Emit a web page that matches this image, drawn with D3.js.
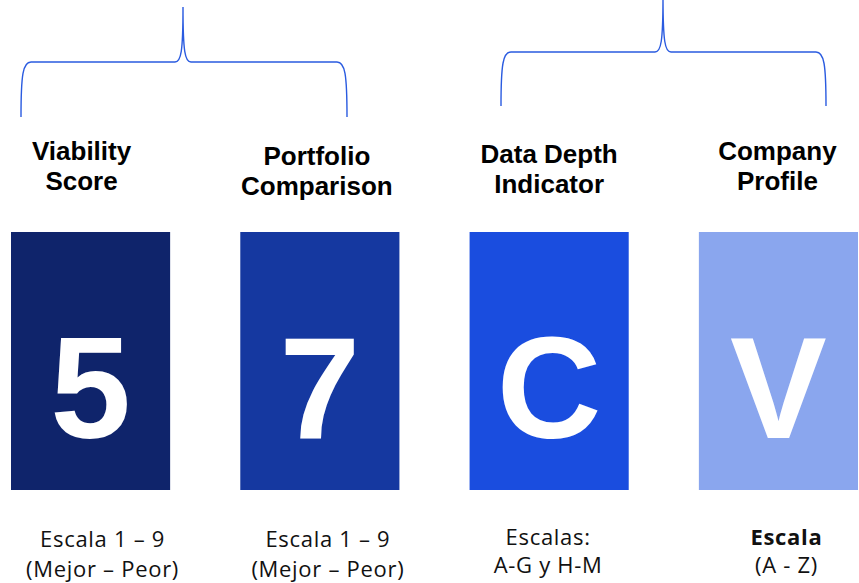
<!DOCTYPE html>
<html>
<head>
  <title>Scores</title>
  <script src="https://d3js.org/d3.v7.min.js"></script>
  <style>
    body { margin: 0; background: #fff; }
  </style>
</head>
<body>
  <div id="chart"></div>
  <script>
  // data
  const categories = ["Viability Score", "Portfolio Comparison", "Data Depth Indicator", "Company Profile"];
  const titleLines = [["Viability", "Score"], ["Portfolio", "Comparison"], ["Data Depth", "Indicator"], ["Company", "Profile"]];
  const values = ["5", "7", "C", "V"];
  const scaleLines = [["Escala 1 – 9", "(Mejor – Peor)"], ["Escala 1 – 9", "(Mejor – Peor)"], ["Escalas:", "A-G y H-M"], ["Escala", "(A - Z)"]];
  const groups = [["Viability Score", "Portfolio Comparison"], ["Data Depth Indicator", "Company Profile"]];

  // style / layout
  const colors = ["#0f246b", "#1538a0", "#1a4ddf", "#8aa6ee"];
  const titleShift = [-9, -3, 0, -1];
  const titleTop = [160, 165, 163, 160];
  const subShift = [12, 8, -1, 8];
  const boldFirst = [false, false, false, true];

  const W = 859, H = 583;
  const svg = d3.select("#chart").append("svg")
    .attr("width", W).attr("height", H);

  const x = d3.scaleBand()
    .domain(categories)
    .range([11, 858])
    .paddingInner(0.306)
    .paddingOuter(0);

  const y = d3.scaleLinear().domain([0, 1]).range([490, 232]);

  const col = svg.selectAll("g.col")
    .data(categories)
    .join("g")
    .attr("class", "col");

  col.append("rect")
    .attr("x", d => x(d))
    .attr("y", y(1))
    .attr("width", x.bandwidth())
    .attr("height", y(0) - y(1))
    .attr("fill", (d, i) => colors[i]);

  col.append("text")
    .attr("x", d => x(d) + x.bandwidth() / 2)
    .attr("y", 438)
    .attr("text-anchor", "middle")
    .attr("font-family", "Liberation Sans, Arial, sans-serif")
    .attr("font-weight", "bold")
    .attr("font-size", 145)
    .attr("fill", "#fff")
    .text((d, i) => values[i]);

  col.each(function(d, i) {
    const g = d3.select(this);
    const cx = x(d) + x.bandwidth() / 2;
    titleLines[i].forEach((t, j) => {
      g.append("text")
        .attr("x", cx + titleShift[i])
        .attr("y", titleTop[i] + j * 30)
        .attr("text-anchor", "middle")
        .attr("font-family", "Liberation Sans, Arial, sans-serif")
        .attr("font-weight", "bold")
        .attr("font-size", 26)
        .attr("fill", "#000")
        .text(t);
    });
    scaleLines[i].forEach((t, j) => {
      g.append("text")
        .attr("x", cx + subShift[i])
        .attr("y", (i < 2 ? 547 : 545) + j * (i < 2 ? 30 : 28))
        .attr("text-anchor", "middle")
        .attr("font-family", "Open Sans, Noto Sans, sans-serif")
        .attr("font-weight", boldFirst[i] && j === 0 ? "bold" : "normal")
        .attr("font-size", 22)
        .attr("letter-spacing", 0.7)
        .attr("fill", "#111")
        .text(t);
    });
  });

  // braces over each group
  const braceGeom = [
    { x0: 21, x1: 347, tip: 183, yTop: 62, yBot: 117, yTip: 7 },
    { x0: 501, x1: 826, tip: 663, yTop: 52, yBot: 106, yTip: -4 }
  ];

  function bracePath(b) {
    const p = d3.path();
    p.moveTo(b.x0, b.yBot);
    p.bezierCurveTo(b.x0, b.yTop + 12, b.x0 + 2, b.yTop, b.x0 + 10, b.yTop);
    p.lineTo(b.tip - 8, b.yTop);
    p.bezierCurveTo(b.tip - 2, b.yTop, b.tip, b.yTop - 10, b.tip, b.yTip);
    p.bezierCurveTo(b.tip, b.yTop - 10, b.tip + 2, b.yTop, b.tip + 8, b.yTop);
    p.lineTo(b.x1 - 10, b.yTop);
    p.bezierCurveTo(b.x1 - 2, b.yTop, b.x1, b.yTop + 12, b.x1, b.yBot);
    return p.toString();
  }

  svg.selectAll("path.brace")
    .data(groups)
    .join("path")
    .attr("class", "brace")
    .attr("d", (d, i) => bracePath(braceGeom[i]))
    .attr("fill", "none")
    .attr("stroke", "#2a5be0")
    .attr("stroke-width", 1.4);
  </script>
</body>
</html>
